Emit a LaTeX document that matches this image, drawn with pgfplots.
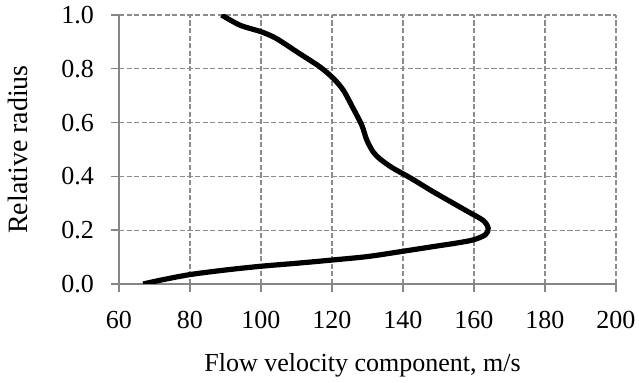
\documentclass[border=0pt]{standalone}
\usepackage{fontspec}
\setmainfont{Liberation Serif}
\usepackage{pgfplots}
\pgfplotsset{compat=1.18}
\definecolor{gridgray}{RGB}{140,140,140}
\definecolor{axgray}{RGB}{134,134,134}
\begin{document}
\fontsize{13}{15.6}\selectfont
\begin{tikzpicture}
\useasboundingbox (-59.5pt,-49.5pt) rectangle (260pt,142pt);
\begin{axis}[
  name=ax, at={(0,0)}, anchor=south west,
  scale only axis, width=248.5pt, height=134.5pt,
  xmin=60, xmax=200, ymin=0, ymax=1,
  xtick={60,80,100,120,140,160,180,200},
  ytick={0,0.2,0.4,0.6,0.8,1.0},
  yticklabel style={/pgf/number format/fixed, /pgf/number format/fixed zerofill, /pgf/number format/precision=1, xshift=-4pt},
  /pgf/number format/assume math mode=true,
  axis lines*=left,
  axis line style={draw=axgray, line width=0.7pt},
  tick style={draw=axgray, line width=0.7pt},
  tick align=outside, major tick length=4pt,
  grid=major,
  major grid style={draw=gridgray, line width=0.55pt, dash pattern=on 2.6pt off 1.2pt},
  every tick label/.append style={font=\fontsize{13}{15.6}\selectfont},
  xticklabel style={yshift=-5pt},
  xlabel={Flow velocity component, m/s},
  ylabel={Relative radius},
  xlabel style={font=\fontsize{13}{15.6}\selectfont, at={(axis description cs:0.5,0)}, anchor=base, yshift=-44pt, xshift=-2.5pt},
  ylabel style={font=\fontsize{14}{16.8}\selectfont, at={(axis description cs:0,0.5)}, anchor=center, yshift=50.5pt},
]
\addplot[black, line width=2.6pt, smooth, tension=0.5] coordinates {
(66.8,0.000)
(72,0.015)
(80,0.035)
(90,0.052)
(100,0.066)
(110,0.077)
(120,0.089)
(130,0.102)
(139.2,0.120)
(148.5,0.139)
(155,0.152)
(159.8,0.164)
(163.2,0.183)
(164.0,0.207)
(162.6,0.236)
(157.9,0.272)
(148.5,0.343)
(142,0.395)
(137,0.432)
(133.5,0.465)
(131.6,0.491)
(129.8,0.535)
(128.4,0.590)
(126.0,0.652)
(123.2,0.720)
(120.4,0.764)
(116.6,0.807)
(110.1,0.863)
(104.4,0.912)
(100.2,0.937)
(94.1,0.962)
(88.9,1.000)
};
\end{axis}
\end{tikzpicture}
\end{document}
